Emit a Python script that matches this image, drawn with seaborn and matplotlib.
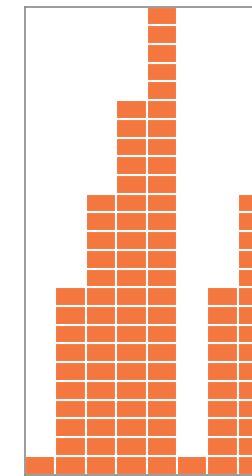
import matplotlib
matplotlib.use("Agg")
import matplotlib.pyplot as plt
import seaborn as sns
import pandas as pd

# Data: number of unit blocks stacked in each column (left to right)
columns = ["c1", "c2", "c3", "c4", "c5", "c6", "c7", "c8"]
counts = [1, 10, 15, 20, 25, 1, 10, 15]

sns.set_style("white")

# expand to one row per unit block
rows = []
for i, (c, n) in enumerate(zip(columns, counts)):
    for k in range(n):
        rows.append({"col": c, "pos": i, "level": k})
units = pd.DataFrame(rows)

W, H = 252, 476
fig = plt.figure(figsize=(W / 100, H / 100), dpi=100)
col_px = 30.4
left_px, top_px, bottom_px = 25, 6.5, 474.5
ax = fig.add_axes([left_px / W, (H - bottom_px) / H,
                   len(columns) * col_px / W, (bottom_px - top_px) / H])

ax.bar(units["pos"], 1, bottom=units["level"], width=1.0,
       color="#F3773F", edgecolor="white", linewidth=1.5, align="center")

ax.set_xlim(-0.5, len(columns) - 0.5)
ax.set_ylim(0, 25)
ax.set_xticks([])
ax.set_yticks([])
for s in ax.spines.values():
    s.set_color("#8a8a8a")
    s.set_linewidth(1.2)

fig.savefig("out.png", dpi=100)
